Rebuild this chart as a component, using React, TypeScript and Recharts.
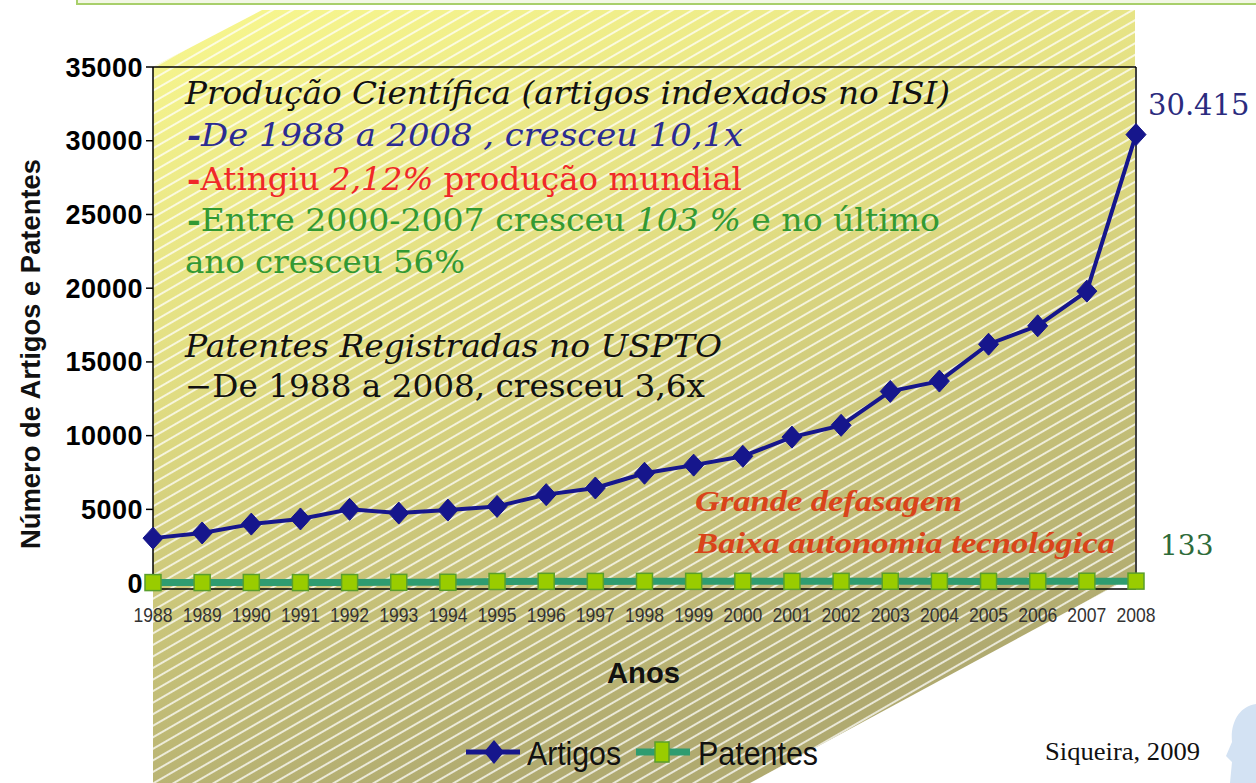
import React from "react";
import { LineChart, Line, XAxis, YAxis, ReferenceLine } from "recharts";

// anos do eixo X
const years = [
  "1988", "1989", "1990", "1991", "1992", "1993", "1994", "1995", "1996", "1997", "1998",
  "1999", "2000", "2001", "2002", "2003", "2004", "2005", "2006", "2007", "2008",
];

// artigos indexados no ISI
const artigos = [
  3050, 3400, 4000, 4350, 5000, 4750, 4950, 5200, 6000, 6450, 7450,
  8000, 8600, 9900, 10700, 13000, 13700, 16200, 17450, 19800, 30415,
];

// patentes registradas no USPTO
const patentes = [
  35, 36, 41, 35, 40, 50, 55, 110, 120, 115, 120,
  120, 125, 120, 118, 125, 122, 115, 120, 125, 133,
];

const yTicks = [0, 5000, 10000, 15000, 20000, 25000, 30000, 35000];

const data = years.map((year, i) => ({ year, artigos: artigos[i], patentes: patentes[i] }));

const W = 1256;
const H = 783;
const NAVY = "#16168c";
const TEAL = "#2f9c70";
const SANS = "'Liberation Sans', Arial, sans-serif";
const SERIF = "'DejaVu Serif', serif";
const TIMES = "'Liberation Serif', 'Times New Roman', serif";

function diamond(cx: number, cy: number, w: number, h: number) {
  return `M${cx},${cy - h} L${cx + w},${cy} L${cx},${cy + h} L${cx - w},${cy} Z`;
}

const renderDiamond = (p: any) => (
  <path key={`a-${p.index}`} d={diamond(p.cx, p.cy, 10, 11)} fill={NAVY} stroke={NAVY} />
);

const renderSquare = (p: any) => (
  <rect
    key={`p-${p.index}`}
    x={p.cx - 8}
    y={p.cy - 8}
    width={16}
    height={16}
    fill="#99cc00"
    stroke="#5a9e2c"
    strokeWidth={1.5}
  />
);

// rótulos estreitos como Arial Narrow
const XTick = ({ x, y, payload }: any) => (
  <text
    x={x - 19.5}
    y={y}
    dy={15}
    fontFamily={SANS}
    fontSize={21}
    fill="#333"
    textLength={39}
    lengthAdjust="spacingAndGlyphs"
  >
    {payload.value}
  </text>
);

const YTick = ({ x, y, payload }: any) => (
  <text
    x={x}
    y={y}
    dy={9.5}
    textAnchor="end"
    fontFamily={SANS}
    fontWeight="bold"
    fontSize={27}
    letterSpacing={0.5}
    fill="#000"
  >
    {payload.value}
  </text>
);

function Background() {
  return (
    <svg width={W} height={H} style={{ position: "absolute", left: 0, top: 0 }}>
      <defs>
        <linearGradient id="bgFill" x1="0" y1="0" x2="0.35" y2="1">
          <stop offset="0%" stopColor="#f8f78e" />
          <stop offset="45%" stopColor="#e0dc82" />
          <stop offset="100%" stopColor="#b0aa70" />
        </linearGradient>
        <pattern id="hatch" width="10" height="10" patternUnits="userSpaceOnUse" patternTransform="rotate(-30)">
          <line x1="0" y1="5" x2="10" y2="5" stroke="#ffffff" strokeWidth={1.7} strokeOpacity={0.85} />
        </pattern>
      </defs>
      <rect x={77} y={-10} width={1200} height={14} fill="#f2f7e4" stroke="#a8cf6a" strokeWidth={2} />
      <polygon points="262,10 1135,10 1135,575 750,783 153,783 153,67" fill="url(#bgFill)" />
      <polygon points="262,10 1135,10 1135,575 750,783 153,783 153,67" fill="url(#hatch)" />
      <path d="M1256,704 C1240,706 1230,722 1232,742 L1226,756 L1232,762 L1230,783 L1256,783 Z" fill="#d3e2f3" />
    </svg>
  );
}

function Overlay() {
  return (
    <svg width={W} height={H} style={{ position: "absolute", left: 0, top: 0, pointerEvents: "none" }}>
      <g fontFamily={SERIF} fontSize={31}>
        <text x={185} y={104} fontStyle="italic" fill="#111" textLength={765} lengthAdjust="spacingAndGlyphs">
          Produção Científica (artigos indexados no ISI)
        </text>
        <text x={187} y={146} fontStyle="italic" fill="#2b2b92" textLength={556} lengthAdjust="spacingAndGlyphs">
          <tspan fontWeight="bold">-</tspan>De 1988 a 2008 , cresceu 10,1x
        </text>
        <text x={187} y={190} fill="#f02828" textLength={555} lengthAdjust="spacingAndGlyphs">
          <tspan fontWeight="bold">-</tspan>Atingiu <tspan fontStyle="italic">2,12%</tspan>  produção mundial
        </text>
        <text x={187} y={231} fill="#339933" textLength={753} lengthAdjust="spacingAndGlyphs">
          <tspan fontWeight="bold">-</tspan>Entre 2000-2007 cresceu <tspan fontStyle="italic">103 %</tspan> e no último
        </text>
        <text x={185} y={273} fill="#339933" textLength={280} lengthAdjust="spacingAndGlyphs">
          ano cresceu 56%
        </text>
        <text x={185} y={357} fontStyle="italic" fill="#111" textLength={537} lengthAdjust="spacingAndGlyphs">
          Patentes Registradas no USPTO
        </text>
        <text x={185} y={397} fill="#111" textLength={520} lengthAdjust="spacingAndGlyphs">
          −De 1988 a 2008, cresceu 3,6x
        </text>
      </g>
      <g fontFamily={TIMES} fontSize={30} fontWeight="bold" fontStyle="italic" fill="#d9441a">
        <text x={695} y={511} textLength={267} lengthAdjust="spacingAndGlyphs">Grande defasagem</text>
        <text x={695} y={553} textLength={420} lengthAdjust="spacingAndGlyphs">Baixa autonomia tecnológica</text>
      </g>
      <text x={1148} y={115} fontFamily={SERIF} fontSize={29} fill="#2b2b7e">30.415</text>
      <text x={1160} y={555} fontFamily={SERIF} fontSize={28} fill="#2e6b3a">133</text>
      <text
        x={0}
        y={0}
        transform="translate(40,354) rotate(-90)"
        textAnchor="middle"
        fontFamily={SANS}
        fontWeight="bold"
        fontSize={28}
        fill="#111"
        textLength={390}
        lengthAdjust="spacingAndGlyphs"
      >
        Número de Artigos e Patentes
      </text>
      <text x={607} y={683} fontFamily={SANS} fontWeight="bold" fontSize={30} fill="#111" textLength={73} lengthAdjust="spacingAndGlyphs">
        Anos
      </text>
      {/* legenda */}
      <line x1={466} y1={752} x2={520} y2={752} stroke={NAVY} strokeWidth={5} />
      <path d={diamond(494, 752, 10, 12)} fill={NAVY} />
      <text x={527} y={765} fontFamily={SANS} fontSize={34} fill="#111" textLength={94} lengthAdjust="spacingAndGlyphs">
        Artigos
      </text>
      <line x1={636} y1={752} x2={690} y2={752} stroke={TEAL} strokeWidth={7} />
      <rect x={655} y={742} width={14} height={20} fill="#99cc00" stroke="#5a9e2c" strokeWidth={1.5} />
      <text x={698} y={765} fontFamily={SANS} fontSize={34} fill="#111" textLength={120} lengthAdjust="spacingAndGlyphs">
        Patentes
      </text>
      <text x={1045} y={760} fontFamily={TIMES} fontSize={25} fill="#111" textLength={155} lengthAdjust="spacingAndGlyphs">
        Siqueira, 2009
      </text>
    </svg>
  );
}

export default function App() {
  return (
    <div style={{ position: "absolute", left: 0, top: 0, width: W, height: H, overflow: "hidden", background: "#fff" }}>
      <Background />
      <div style={{ position: "absolute", left: 0, top: 0 }}>
        <LineChart width={W} height={H} data={data} margin={{ top: 67, right: 120, bottom: 154, left: 53 }}>
          <XAxis
            dataKey="year"
            interval={0}
            height={40}
            tickLine={false}
            tickSize={0}
            tickMargin={18}
            axisLine={{ stroke: "#000", strokeWidth: 1.5 }}
            tick={<XTick />}
          />
          <YAxis
            width={100}
            domain={[-400, 35000]}
            ticks={yTicks}
            interval={0}
            tickSize={7}
            tickMargin={3}
            axisLine={{ stroke: "#000", strokeWidth: 1.5 }}
            tickLine={{ stroke: "#000", strokeWidth: 1.5 }}
            tick={<YTick />}
          />
          <ReferenceLine y={35000} stroke="#000" strokeWidth={1.5} />
          <ReferenceLine x="2008" stroke="#000" strokeWidth={1.5} />
          <Line
            dataKey="patentes"
            stroke={TEAL}
            strokeWidth={7}
            dot={renderSquare}
            activeDot={false}
            isAnimationActive={false}
          />
          <Line
            dataKey="artigos"
            stroke={NAVY}
            strokeWidth={4}
            dot={renderDiamond}
            activeDot={false}
            isAnimationActive={false}
          />
        </LineChart>
      </div>
      <Overlay />
    </div>
  );
}
